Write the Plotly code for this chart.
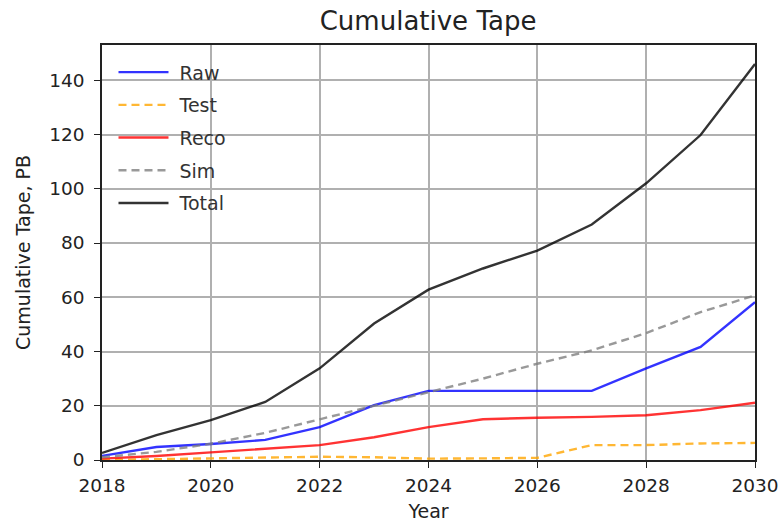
import plotly.graph_objects as go

years = list(range(2018, 2031))
raw = [1.5, 4.8, 5.9, 7.4, 12.1, 20.2, 25.5, 25.5, 25.5, 25.5, 33.8, 41.7, 58.2]
test = [0.0, 0.3, 0.5, 0.8, 1.2, 1.0, 0.5, 0.6, 0.8, 5.5, 5.5, 6.1, 6.3]
reco = [0.5, 1.5, 2.8, 4.2, 5.5, 8.4, 12.1, 15.0, 15.6, 15.9, 16.5, 18.4, 21.1]
sim = [1.0, 3.0, 6.0, 10.0, 15.0, 20.0, 25.0, 30.0, 35.5, 40.4, 46.8, 54.5, 60.7]
total = [2.6, 9.2, 14.7, 21.4, 33.8, 50.3, 62.8, 70.6, 77.2, 86.8, 102.0, 119.8, 146.0]

series = [
    ("Raw", raw, "rgba(0,0,255,0.8)", "solid"),
    ("Test", test, "rgba(255,165,0,0.8)", "8px,5px"),
    ("Reco", reco, "rgba(255,0,0,0.8)", "solid"),
    ("Sim", sim, "rgba(128,128,128,0.8)", "8px,5px"),
    ("Total", total, "rgba(0,0,0,0.8)", "solid"),
]

fig = go.Figure()
for i, (name, vals, color, dash) in enumerate(series):
    fig.add_trace(go.Scatter(x=years, y=vals, mode="lines", name="\u00a0" + name,
                             legendgroup=f"g{i}",
                             line=dict(color=color, width=2.4, dash=dash)))

font = "DejaVu Sans, Liberation Sans, sans-serif"
fig.update_layout(
    width=784, height=523,
    margin=dict(l=102, r=29, t=45, b=63),
    paper_bgcolor="white", plot_bgcolor="white",
    font=dict(family=font, size=18, color="#222"),
    title=dict(text="Cumulative Tape", x=0.546, xanchor="center", y=0.96, yanchor="middle",
               font=dict(size=26, color="#222")),
    showlegend=True,
    legend=dict(x=0.0176, y=0.98, xanchor="left", yanchor="top", bgcolor="rgba(255,255,255,0)",
                font=dict(size=19, color="#333"), traceorder="grouped", tracegroupgap=5,
                itemwidth=50),
    xaxis=dict(range=[2018, 2030], tickmode="array", tickvals=list(range(2018, 2031, 2)),
               showgrid=True, gridcolor="#b0b0b0", gridwidth=2, automargin=False,
               showline=True, linecolor="#222", linewidth=1.5, mirror=True,
               ticks="outside", ticklen=6, tickcolor="#222", ticklabelstandoff=2,
               tickfont=dict(size=18.5),
               title=dict(text="Year", font=dict(size=19), standoff=10), zeroline=False),
    yaxis=dict(range=[0, 153], tickmode="array", tickvals=list(range(0, 141, 20)),
               showgrid=True, gridcolor="#b0b0b0", gridwidth=2, automargin=False,
               showline=True, linecolor="#222", linewidth=1.5, mirror=True,
               ticks="outside", ticklen=6, tickcolor="#222", ticklabelstandoff=6,
               tickfont=dict(size=18.5),
               title=dict(text="Cumulative Tape, PB", font=dict(size=19), standoff=14), zeroline=False),
)

fig.write_html("out.html")
